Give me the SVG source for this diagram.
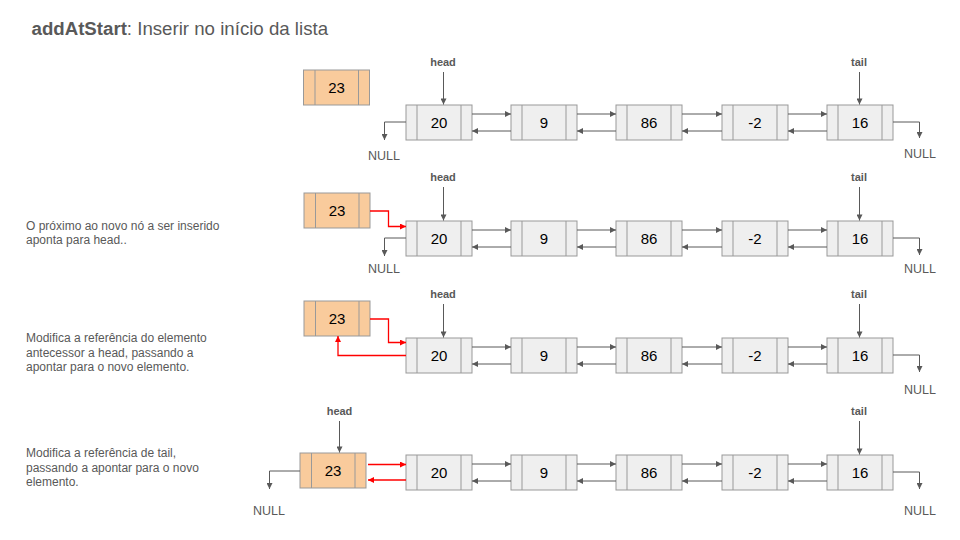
<svg xmlns="http://www.w3.org/2000/svg" width="960" height="540" viewBox="0 0 960 540">
<defs>
<style>
text{font-family:"Liberation Sans",Arial,sans-serif;fill:#595959}
.title{font-size:18.67px}
.desc{font-size:12px}
.lbl{font-size:11px;font-weight:bold;text-anchor:middle}
.null{font-size:12.5px;text-anchor:middle}
.val{font-size:15px;fill:#000;text-anchor:middle}
.box{fill:#efefef;stroke:#999;stroke-width:1}
.obox{fill:#f9cb9c;stroke:#999;stroke-width:1}
.div{stroke:#999;stroke-width:1}
.ln{fill:none;stroke:#595959;stroke-width:1;marker-end:url(#ag)}
.rd{fill:none;stroke:#f00;stroke-width:1.3;marker-end:url(#ar)}
</style>
<marker id="ag" viewBox="0 0 10 10" refX="10" refY="5" markerWidth="7" markerHeight="6" markerUnits="userSpaceOnUse" orient="auto"><path d="M0,0L10,5L0,10z" fill="#595959"/></marker>
<marker id="ar" viewBox="0 0 10 10" refX="10" refY="5" markerWidth="7" markerHeight="6" markerUnits="userSpaceOnUse" orient="auto"><path d="M0,0L10,5L0,10z" fill="#f00"/></marker>
<g id="n"><rect class="box" x="0" y="0" width="66" height="35"/><line class="div" x1="11" y1="0" x2="11" y2="35"/><line class="div" x1="55" y1="0" x2="55" y2="35"/></g>
<g id="o"><rect class="obox" x="0" y="0" width="66" height="35"/><line class="div" x1="11.5" y1="0" x2="11.5" y2="35"/><line class="div" x1="55" y1="0" x2="55" y2="35"/></g>
</defs>
<rect width="960" height="540" fill="#fff"/>
<text x="31.5" y="34.5" class="title"><tspan font-weight="bold">addAtStart</tspan>: Inserir no início da lista</text>
<g id="descs" class="desc">
<text x="26" y="229.5" class="desc">O próximo ao novo nó a ser inserido</text>
<text x="26" y="243.5" class="desc">aponta para head..</text>
<text x="26" y="342" class="desc">Modifica a referência do elemento</text>
<text x="26" y="356.5" class="desc">antecessor a head, passando a</text>
<text x="26" y="371" class="desc">apontar para o novo elemento.</text>
<text x="26" y="457" class="desc">Modifica a referência de tail,</text>
<text x="26" y="471.5" class="desc">passando a apontar para o novo</text>
<text x="26" y="486" class="desc">elemento.</text>
</g>
<!-- Row 1 -->
<g id="r1-n23"><use href="#o" x="303.5" y="70"/><text class="val" x="336.5" y="93">23</text></g>
<g id="r1-n20"><use href="#n" x="406" y="105"/><text class="val" x="439" y="128">20</text></g>
<g id="r1-n9"><use href="#n" x="511" y="105"/><text class="val" x="544" y="128">9</text></g>
<g id="r1-n86"><use href="#n" x="616" y="105"/><text class="val" x="649" y="128">86</text></g>
<g id="r1-nm2"><use href="#n" x="722" y="105"/><text class="val" x="755" y="128">-2</text></g>
<g id="r1-n16"><use href="#n" x="827" y="105"/><text class="val" x="860" y="128">16</text></g>
<g id="r1-labels">
<text class="lbl" x="443" y="65.5">head</text><text class="lbl" x="859" y="65.5">tail</text>
<text class="null" x="384" y="159.5">NULL</text><text class="null" x="920" y="157.5">NULL</text>
</g>
<!-- Row 2 -->
<g id="r2-n23"><use href="#o" x="304" y="193"/><text class="val" x="337" y="216">23</text></g>
<g id="r2-n20"><use href="#n" x="406" y="221"/><text class="val" x="439" y="244">20</text></g>
<g id="r2-n9"><use href="#n" x="511" y="221"/><text class="val" x="544" y="244">9</text></g>
<g id="r2-n86"><use href="#n" x="616" y="221"/><text class="val" x="649" y="244">86</text></g>
<g id="r2-nm2"><use href="#n" x="722" y="221"/><text class="val" x="755" y="244">-2</text></g>
<g id="r2-n16"><use href="#n" x="827" y="221"/><text class="val" x="860" y="244">16</text></g>
<g id="r2-labels">
<text class="lbl" x="443" y="181">head</text><text class="lbl" x="859" y="181">tail</text>
<text class="null" x="384" y="273">NULL</text><text class="null" x="920" y="273">NULL</text>
</g>
<!-- Row 3 -->
<g id="r3-n23"><use href="#o" x="304" y="301"/><text class="val" x="337" y="324">23</text></g>
<g id="r3-n20"><use href="#n" x="406" y="338"/><text class="val" x="439" y="361">20</text></g>
<g id="r3-n9"><use href="#n" x="511" y="338"/><text class="val" x="544" y="361">9</text></g>
<g id="r3-n86"><use href="#n" x="616" y="338"/><text class="val" x="649" y="361">86</text></g>
<g id="r3-nm2"><use href="#n" x="722" y="338"/><text class="val" x="755" y="361">-2</text></g>
<g id="r3-n16"><use href="#n" x="827" y="338"/><text class="val" x="860" y="361">16</text></g>
<g id="r3-labels">
<text class="lbl" x="443" y="298">head</text><text class="lbl" x="859" y="298">tail</text>
<text class="null" x="920" y="394">NULL</text>
</g>
<!-- Row 4 -->
<g id="r4-n23"><use href="#o" x="300" y="453"/><text class="val" x="333" y="476">23</text></g>
<g id="r4-n20"><use href="#n" x="406" y="455"/><text class="val" x="439" y="478">20</text></g>
<g id="r4-n9"><use href="#n" x="511" y="455"/><text class="val" x="544" y="478">9</text></g>
<g id="r4-n86"><use href="#n" x="616" y="455"/><text class="val" x="649" y="478">86</text></g>
<g id="r4-nm2"><use href="#n" x="722" y="455"/><text class="val" x="755" y="478">-2</text></g>
<g id="r4-n16"><use href="#n" x="827" y="455"/><text class="val" x="860" y="478">16</text></g>
<g id="r4-labels">
<text class="lbl" x="339.5" y="415">head</text><text class="lbl" x="859" y="415">tail</text>
<text class="null" x="269" y="515">NULL</text><text class="null" x="920" y="515">NULL</text>
</g>
<g id="connectors">
<!-- row 1 -->
<path class="ln" d="M443.5,72V104.5"/><path class="ln" d="M859.5,72V104.5"/>
<path class="ln" d="M406,122H384.5V140"/><path class="ln" d="M893,122H919.5V138"/>
<path class="ln" d="M472,114H511"/><path class="ln" d="M511,131H472"/>
<path class="ln" d="M577,114H616"/><path class="ln" d="M616,131H577"/>
<path class="ln" d="M682,114H722"/><path class="ln" d="M722,131H682"/>
<path class="ln" d="M788,114H827"/><path class="ln" d="M827,131H788"/>
<!-- row 2 -->
<path class="ln" d="M443.5,187V220.5"/><path class="ln" d="M859.5,187V220.5"/>
<path class="ln" d="M406,238H384.5V256"/><path class="ln" d="M893,238H919.5V255"/>
<path class="ln" d="M472,230H511"/><path class="ln" d="M511,247H472"/>
<path class="ln" d="M577,230H616"/><path class="ln" d="M616,247H577"/>
<path class="ln" d="M682,230H722"/><path class="ln" d="M722,247H682"/>
<path class="ln" d="M788,230H827"/><path class="ln" d="M827,247H788"/>
<path class="rd" d="M370,211H388.5V226.5H406"/>
<!-- row 3 -->
<path class="ln" d="M443.5,304V337.5"/><path class="ln" d="M859.5,304V337.5"/>
<path class="ln" d="M893,355H919.5V372"/>
<path class="ln" d="M472,347H511"/><path class="ln" d="M511,364H472"/>
<path class="ln" d="M577,347H616"/><path class="ln" d="M616,364H577"/>
<path class="ln" d="M682,347H722"/><path class="ln" d="M722,364H682"/>
<path class="ln" d="M788,347H827"/><path class="ln" d="M827,364H788"/>
<path class="rd" d="M370,319H388.5V342.5H406"/>
<path class="rd" d="M406,355.5H338V336"/>
<!-- row 4 -->
<path class="ln" d="M339.5,421V452.5"/><path class="ln" d="M859.5,421V454.5"/>
<path class="ln" d="M300,471H269.5V489"/><path class="ln" d="M893,472H919.5V489"/>
<path class="rd" d="M368,464.5H406"/><path class="rd" d="M406,480H368"/>
<path class="ln" d="M472,464H511"/><path class="ln" d="M511,481H472"/>
<path class="ln" d="M577,464H616"/><path class="ln" d="M616,481H577"/>
<path class="ln" d="M682,464H722"/><path class="ln" d="M722,481H682"/>
<path class="ln" d="M788,464H827"/><path class="ln" d="M827,481H788"/>
</g>
</svg>
